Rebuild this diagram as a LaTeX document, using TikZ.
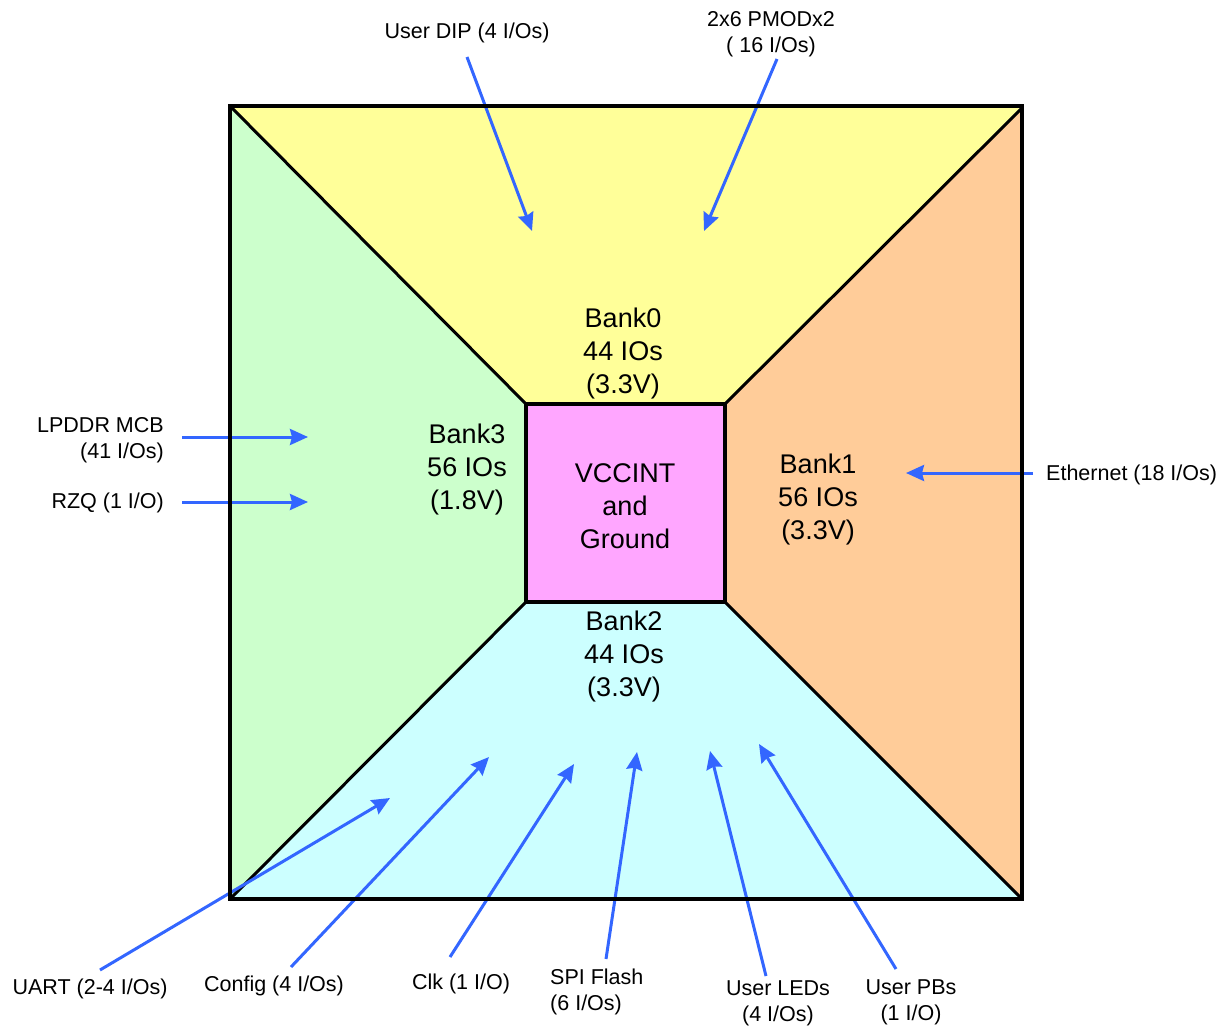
\documentclass[tikz,border=0pt]{standalone}
\usepackage{fontspec}
\setmainfont{Liberation Sans}
\usetikzlibrary{arrows.meta}
\definecolor{bankyellow}{HTML}{FFFF99}
\definecolor{bankgreen}{HTML}{CCFFCC}
\definecolor{bankorange}{HTML}{FFCC99}
\definecolor{bankcyan}{HTML}{CCFFFF}
\definecolor{corepink}{HTML}{FFA6FF}
\definecolor{ioblue}{HTML}{3366FF}
\begin{document}
\begin{tikzpicture}[x=1pt,y=-1pt,
  lab/.style={font=\fontsize{21.5}{26}\selectfont, align=center, inner sep=0pt},
  banklab/.style={font=\fontsize{27}{33}\selectfont, align=center, inner sep=0pt},
  io/.style={draw=ioblue, line width=3pt, -{Stealth[length=18pt,width=16pt,inset=2pt]}},
  diag/.style={line width=3pt},
  frame/.style={line width=4pt, line join=miter}]
\useasboundingbox (0,0) rectangle (1230,1027);
% geometry
\coordinate (TL) at (230,106);
\coordinate (TR) at (1022,106);
\coordinate (TRd) at (1022,108);
\coordinate (BR) at (1022,899);
\coordinate (BL) at (230,899);
\coordinate (iTL) at (526,404);
\coordinate (iTR) at (725,404);
\coordinate (iBR) at (725,602);
\coordinate (iBL) at (526,602);
% fills
\fill[bankyellow] (TL) -- (TR) -- (iTR) -- (iTL) -- cycle;
\fill[bankorange] (TRd) -- (BR) -- (iBR) -- (iTR) -- cycle;
\fill[bankcyan] (BL) -- (BR) -- (iBR) -- (iBL) -- cycle;
\fill[bankgreen] (TL) -- (BL) -- (iBL) -- (iTL) -- cycle;
\fill[corepink] (iTL) rectangle (iBR);
% diagonals
\draw[diag] (TL) -- (iTL);
\draw[diag] (TRd) -- (iTR);
\draw[diag] (BL) -- (iBL);
\draw[diag] (BR) -- (iBR);
\draw[line width=3.5pt] (iTL) rectangle (iBR);
% bank labels
\node[banklab] (bank0) at (623,354) {Bank0\\44 IOs\\(3.3V)};
\node[banklab] (bank3) at (467,470) {Bank3\\56 IOs\\(1.8V)};
\node[banklab] (core) at (625,506) {VCCINT\\and\\Ground};
\node[banklab] (bank1) at (818,500) {Bank1\\56 IOs\\(3.3V)};
\node[banklab] (bank2) at (624,657) {Bank2\\44 IOs\\(3.3V)};
% io labels
\node[lab] (dip) at (467,33) {User DIP (4 I/Os)};
\node[lab] (pmod) at (771,34) {2x6 PMODx2\\( 16 I/Os)};
\node[lab, anchor=east, align=right] (lpddr) at (164,440) {LPDDR MCB\\(41 I/Os)};
\node[lab, anchor=east] (rzq) at (164,503) {RZQ (1 I/O)};
\node[lab, anchor=west] (eth) at (1046,475) {Ethernet (18 I/Os)};
\node[lab] (uart) at (90,989) {UART (2-4 I/Os)};
\node[lab] (config) at (274,986) {Config (4 I/Os)};
\node[lab] (clk) at (461,984) {Clk (1 I/O)};
\node[lab, anchor=west, align=left] (spi) at (550,992) {SPI Flash\\(6 I/Os)};
\node[lab] (leds) at (778,1003) {User LEDs\\(4 I/Os)};
\node[lab] (pbs) at (911,1002) {User PBs\\(1 I/O)};
% arrow end points
\coordinate (dipS) at (467,57);   \coordinate (dipT) at (532,231);
\coordinate (pmodS) at (777,59);  \coordinate (pmodT) at (704,231);
\coordinate (lpS) at (182,437);   \coordinate (lpT) at (308,437);
\coordinate (rzS) at (182,502);   \coordinate (rzT) at (308,502);
\coordinate (ethS) at (1033,473); \coordinate (ethT) at (906,473);
\coordinate (uaS) at (100,970);   \coordinate (uaT) at (390,798);
\coordinate (cfS) at (291,967);   \coordinate (cfT) at (489,757);
\coordinate (ckS) at (450,957);   \coordinate (ckT) at (574,764);
\coordinate (spS) at (606,959);   \coordinate (spT) at (637,752);
\coordinate (ldS) at (766,976);   \coordinate (ldT) at (710,751);
\coordinate (pbS) at (896,969);   \coordinate (pbT) at (759,744);
% arrows
\draw[io] (dipS) -- (dipT);
\draw[io] (pmodS) -- (pmodT);
\draw[io] (lpS) -- (lpT);
\draw[io] (rzS) -- (rzT);
\draw[io] (ethS) -- (ethT);
\draw[io] (uaS) -- (uaT);
\draw[io] (cfS) -- (cfT);
\draw[io] (ckS) -- (ckT);
\draw[io] (spS) -- (spT);
\draw[io] (ldS) -- (ldT);
\draw[io] (pbS) -- (pbT);
% outer frame
\draw[frame] (TL) rectangle (BR);
\end{tikzpicture}
\end{document}
